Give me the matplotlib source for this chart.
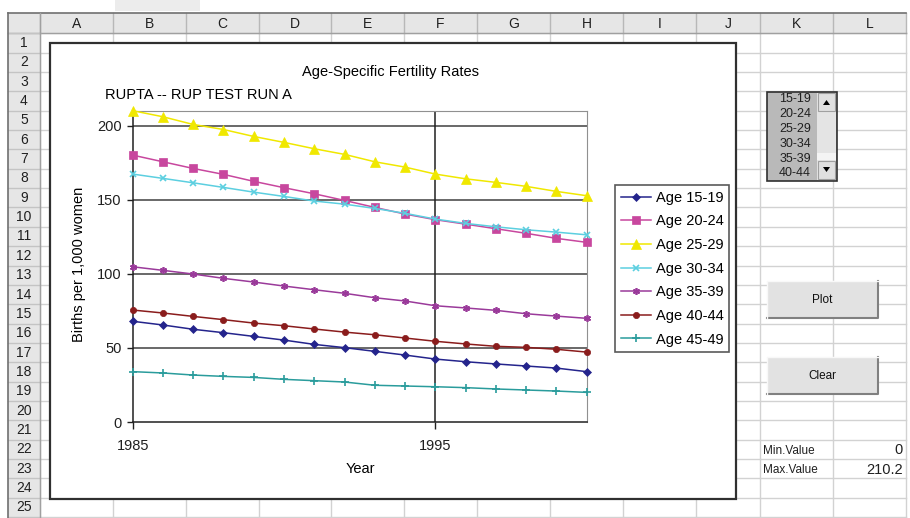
import matplotlib
matplotlib.use("Agg")
import matplotlib.pyplot as plt
from matplotlib.patches import Rectangle, Polygon

plt.rcParams['font.family'] = ['Liberation Sans', 'DejaVu Sans']

# Date din grafic
years = list(range(1985, 2001))
age_15_19 = [68.0, 65.5, 62.6, 60.3, 57.8, 55.3, 52.4, 50.2, 47.7, 45.2, 42.5, 40.7, 39.2, 37.8, 36.4, 34.0]
age_20_24 = [180.2, 175.7, 171.2, 167.2, 162.5, 158.2, 154.1, 149.6, 144.9, 140.4, 136.6, 133.6, 130.5, 127.4, 124.0, 121.3]
age_25_29 = [210.2, 206.1, 200.9, 197.5, 192.8, 188.8, 184.5, 180.7, 175.7, 172.1, 167.4, 164.2, 161.8, 159.1, 155.7, 152.8]
age_30_34 = [167.4, 164.5, 161.5, 158.4, 155.2, 152.3, 149.2, 147.1, 144.2, 140.9, 137.0, 134.1, 131.8, 129.8, 128.2, 126.4]
age_35_39 = [104.8, 102.4, 99.9, 97.0, 94.5, 91.8, 89.3, 86.9, 83.9, 81.7, 78.5, 77.0, 75.4, 73.1, 71.5, 70.0]
age_40_44 = [75.6, 73.6, 71.3, 69.1, 66.8, 65.0, 62.8, 60.7, 58.9, 56.7, 54.5, 52.7, 51.1, 50.4, 49.1, 47.2]
age_45_49 = [34.0, 33.1, 31.7, 30.8, 30.1, 28.8, 27.9, 27.0, 24.8, 24.3, 23.8, 23.2, 22.3, 21.6, 20.9, 20.0]
series_labels = ['Age 15-19', 'Age 20-24', 'Age 25-29', 'Age 30-34', 'Age 35-39', 'Age 40-44', 'Age 45-49']
list_items = ['15-19', '20-24', '25-29', '30-34', '35-39', '40-44']
min_value = 0
max_value = 210.2
x_ticks = [1985, 1995]
y_ticks = [0, 50, 100, 150, 200]

series = [age_15_19, age_20_24, age_25_29, age_30_34, age_35_39, age_40_44, age_45_49]
colors = ['#24248c', '#c8479e', '#f0e800', '#5ccfe0', '#9a3a9a', '#8a1c1c', '#2a9c9c']
markers = ['D', 's', '^', 'x', (6, 2, 0), 'o', '+']
msizes = [4.5, 5.5, 6.5, 4.5, 5, 4.5, 6]

W, H = 910, 518
fig = plt.figure(figsize=(W / 100, H / 100), dpi=100)
fig.patch.set_facecolor('white')

# fundal: foaia de calcul, in coordonate pixel
bg = fig.add_axes([0, 0, 1, 1])
bg.set_xlim(0, W)
bg.set_ylim(H, 0)
bg.axis('off')

col_edges = [40, 113, 186, 259, 331, 404, 477, 550, 623, 696, 760, 833, 906]
col_names = ['A', 'B', 'C', 'D', 'E', 'F', 'G', 'H', 'I', 'J', 'K', 'L']
row_top = 33.3
row_h = 19.35
n_rows = 25

grid_c = '#d2d2d2'
head_c = '#e6e6e6'
# celule
for i in range(n_rows + 1):
    y = row_top + i * row_h
    bg.plot([40, 906], [y, y], color=grid_c, lw=1)
for x in col_edges:
    bg.plot([x, x], [row_top, H], color=grid_c, lw=1)

# antet coloane
bg.add_patch(Rectangle((8, 13), 898, row_top - 13, facecolor=head_c, edgecolor='none'))
for x in col_edges:
    bg.plot([x, x], [13, row_top], color='#b8b8b8', lw=1)
for i, name in enumerate(col_names):
    bg.text((col_edges[i] + col_edges[i + 1]) / 2, 23.5, name, ha='center', va='center', fontsize=10, color='#202020')
bg.plot([8, 906], [13, 13], color='#707070', lw=1.2)
bg.plot([8, 906], [row_top, row_top], color='#a0a0a0', lw=1)

# antet randuri
bg.add_patch(Rectangle((8, row_top), 32, H - row_top, facecolor=head_c, edgecolor='none'))
for i in range(n_rows + 1):
    y = row_top + i * row_h
    bg.plot([8, 40], [y, y], color='#c4c4c4', lw=1)
for i in range(n_rows):
    bg.text(24, row_top + (i + 0.5) * row_h, str(i + 1), ha='center', va='center', fontsize=10, color='#202020')
bg.plot([8, 8], [13, H], color='#707070', lw=1.2)
bg.plot([40, 40], [13, H], color='#a0a0a0', lw=1)

# bara de formule (fragment)
bg.add_patch(Rectangle((115, 0), 85, 11, facecolor='#ececec', edgecolor='none'))

# zona graficului
bg.add_patch(Rectangle((50, 43), 686, 456, facecolor='white', edgecolor='#303030', lw=1.6, zorder=3))
bg.text(390, 72, 'Age-Specific Fertility Rates', ha='center', va='center', fontsize=10.5, zorder=4)
bg.text(105, 95, 'RUPTA -- RUP TEST RUN A', ha='left', va='center', fontsize=10.5, zorder=4)
bg.text(79, 264, 'Births per 1,000 women', rotation=90, ha='center', va='center', fontsize=10.5, zorder=4)
bg.text(360, 469, 'Year', ha='center', va='center', fontsize=10.5, zorder=4)

# lista
bg.add_patch(Rectangle((767, 91.5), 70, 89, facecolor='#b9b9b9', edgecolor='#303030', lw=1.2, zorder=3))
bg.add_patch(Rectangle((817, 92.5), 19, 87, facecolor='#e4e4e4', edgecolor='none', zorder=4))
bg.add_patch(Rectangle((817, 153), 19, 7, facecolor='#f4f4f4', edgecolor='none', zorder=4))
bg.add_patch(Rectangle((818, 93), 17, 18, facecolor='#e0e0e0', edgecolor='#a0a0a0', lw=0.8, zorder=5))
bg.add_patch(Rectangle((818, 161), 17, 18, facecolor='#e0e0e0', edgecolor='#a0a0a0', lw=0.8, zorder=5))
bg.add_patch(Polygon([[823, 105], [830, 105], [826.5, 100]], closed=True, facecolor='black', zorder=6))
bg.add_patch(Polygon([[823, 167], [830, 167], [826.5, 172]], closed=True, facecolor='black', zorder=6))
for i, item in enumerate(list_items):
    bg.text(795, 99.5 + i * 14.8, item, ha='center', va='center', fontsize=9, color='#202020', zorder=5)

# butoane
for y0, lab in [(281, 'Plot'), (357, 'Clear')]:
    bg.add_patch(Rectangle((767, y0), 111, 37, facecolor='#e2e2e2', edgecolor='none', zorder=3))
    bg.plot([767, 878, 878], [y0 + 37, y0 + 37, y0], color='#808080', lw=1.5, zorder=4)
    bg.plot([767, 767, 878], [y0 + 37, y0, y0], color='#f8f8f8', lw=1, zorder=4)
    bg.text(822, y0 + 19, lab, ha='center', va='center', fontsize=8.5, color='#101010', zorder=5)

# valori min / max
bg.text(763, 451, 'Min.Value', ha='left', va='center', fontsize=8.5, color='#202020')
bg.text(763, 470, 'Max.Value', ha='left', va='center', fontsize=8.5, color='#202020')
bg.text(903, 450, f'{min_value:g}', ha='right', va='center', fontsize=10.5, color='#202020')
bg.text(903, 469.5, f'{max_value:g}', ha='right', va='center', fontsize=10.5, color='#202020')

# suprafata de trasare
px_l, px_r, px_t, px_b = 132.7, 586.7, 110.7, 422.0
ax = fig.add_axes([px_l / W, 1 - px_b / H, (px_r - px_l) / W, (px_b - px_t) / H])
ax.set_zorder(5)
ax.patch.set_alpha(0)

for yv in y_ticks[1:]:
    ax.axhline(yv, color='#404040', lw=1.1, zorder=1)
ax.axvline(1995, color='#202020', lw=1.1, zorder=1)

for vals, lab, c, m, ms in zip(series, series_labels, colors, markers, msizes):
    ax.plot(years, vals, color=c, marker=m, markersize=ms, lw=1.1, label=lab, clip_on=False,
            markeredgewidth=1.2 if m in ('x', '+') or isinstance(m, tuple) else 0.5, zorder=3)

ax.set_xlim(years[0], years[-1])
ax.set_ylim(min_value, max_value)
ax.set_xticks(x_ticks)
ax.set_yticks(y_ticks)
ax.tick_params(axis='both', direction='out', length=4, width=1, color='#202020', labelsize=10.5, labelcolor='#202020')
ax.tick_params(axis='x', pad=7, length=5)
ax.tick_params(axis='y', pad=4)
for side in ['top', 'right']:
    ax.spines[side].set_color('#909090')
for side in ['left', 'bottom']:
    ax.spines[side].set_color('#202020')
    ax.spines[side].set_linewidth(1.1)

leg = ax.legend(loc='upper left', bbox_to_anchor=(615 / W, 1 - 185 / H), bbox_transform=fig.transFigure,
                borderaxespad=0, fontsize=10.5, frameon=True, fancybox=False, edgecolor='#303030',
                handlelength=2.1, handletextpad=0.3, borderpad=0.4, labelspacing=0.66)
leg.get_frame().set_linewidth(1.2)

fig.savefig('out.png', dpi=100)
